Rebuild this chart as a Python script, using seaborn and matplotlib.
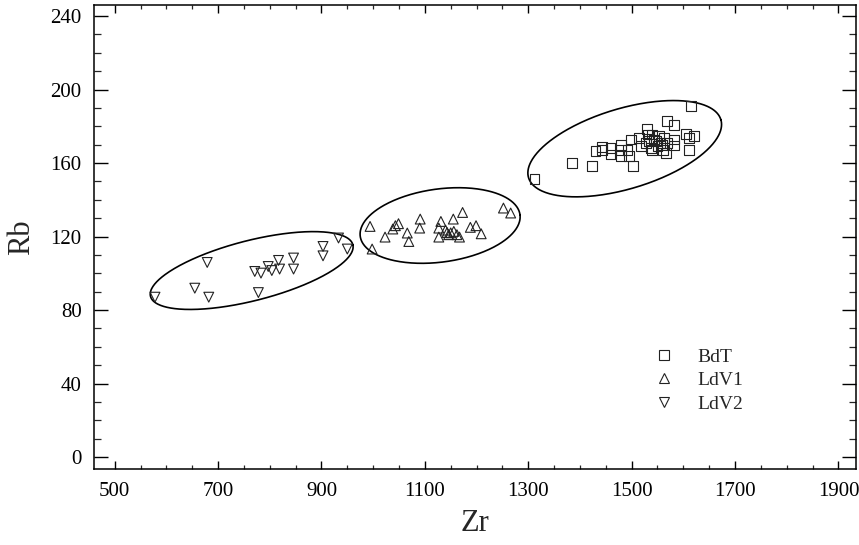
import numpy as np
import pandas as pd
import matplotlib
matplotlib.use("Agg")
import matplotlib.pyplot as plt
import seaborn as sns
from matplotlib.lines import Line2D
from matplotlib.ticker import MultipleLocator

# ---- data ----
bdt_zr = [1312, 1385, 1423, 1503, 1430, 1442, 1443, 1459, 1459, 1479, 1479, 1479,
          1492, 1495, 1498, 1514, 1518, 1529, 1531, 1534, 1540, 1540, 1543, 1550,
          1553, 1556, 1560, 1563, 1566, 1569, 1569, 1582, 1582, 1582, 1605, 1611,
          1621, 1611, 1615, 1527, 1537, 1547, 1558]
bdt_rb = [151.3, 160, 158.2, 158.2, 166.4, 168.8, 167.3, 168.2, 164.6, 170, 167.3, 163.7,
          167.3, 163.7, 172.8, 173.7, 169.1, 178.6, 175.5, 171.8, 175.5, 167.3, 172.8, 169.1,
          174.6, 171, 167.3, 173.7, 165.5, 182.7, 171, 180.9, 172.8, 169.5, 176, 173.7,
          174.9, 167.3, 190.9, 171, 168.2, 172, 170]

ldv1_zr = [994, 998, 1023, 1038, 1043, 1049, 1066, 1069, 1091, 1090, 1127, 1131, 1127,
           1143, 1146, 1155, 1156, 1162, 1167, 1173, 1188, 1199, 1209, 1252, 1266, 1150, 1140]
ldv1_rb = [125.5, 113.2, 119.7, 124.1, 125.9, 127, 121.9, 117.3, 129.5, 124.6, 124.6, 128.2, 119.7,
           122.2, 121, 129.5, 122.8, 121, 119.7, 133.1, 125, 125.9, 121.5, 135.5, 132.8, 122, 123.5]

ldv2_zr = [578, 655, 682, 679, 778, 771, 783, 797, 804, 817, 819, 846, 846, 903, 903, 933, 950]
ldv2_rb = [87, 91.9, 87, 105.9, 89.5, 101, 100.1, 103.7, 101.5, 107, 102.3, 108.3, 102.3,
           114.6, 109.5, 119.2, 113.2]

groups = ["BdT", "LdV1", "LdV2"]
group_markers = {"BdT": "s", "LdV1": "^", "LdV2": "v"}

# ellipses: centre, semi-major vector, semi-minor vector (data units)
ell_cx = [1486.6, 1129.5, 765.0]
ell_cy = [167.8, 126.0, 101.5]
ell_ax = [186.0, 154.5, 195.7]
ell_ay = [15.8, 5.89, 14.06]
ell_bx = [-22.4, -9.48, -14.4]
ell_by = [20.9, 19.71, 15.84]

x_ticks = [500, 700, 900, 1100, 1300, 1500, 1700, 1900]
y_ticks = [0, 40, 80, 120, 160, 200, 240]

df = pd.concat([
    pd.DataFrame({"Zr": bdt_zr, "Rb": bdt_rb, "group": "BdT"}),
    pd.DataFrame({"Zr": ldv1_zr, "Rb": ldv1_rb, "group": "LdV1"}),
    pd.DataFrame({"Zr": ldv2_zr, "Rb": ldv2_rb, "group": "LdV2"}),
], ignore_index=True)

sns.set_theme(style="ticks")
plt.rcParams["font.family"] = ["Liberation Serif", "DejaVu Serif"]

fig = plt.figure(figsize=(8.59, 5.45), dpi=100)
ax = fig.add_axes([94 / 859, 1 - 469 / 545, 762 / 859, 464 / 545])

sns.scatterplot(data=df, x="Zr", y="Rb", style="group", markers=group_markers,
                style_order=groups, facecolor="none", edgecolor="#222222",
                linewidth=0.8, s=50, legend=False, ax=ax, zorder=3)

t = np.linspace(0, 2 * np.pi, 400)
for cx, cy, axx, ayy, bxx, byy in zip(ell_cx, ell_cy, ell_ax, ell_ay, ell_bx, ell_by):
    ax.plot(cx + axx * np.cos(t) + bxx * np.sin(t),
            cy + ayy * np.cos(t) + byy * np.sin(t),
            color="black", lw=1.2, zorder=2)

ax.set_xlim(460, 1934)
ax.set_ylim(-6.5, 246)
ax.set_xticks(x_ticks)
ax.set_yticks(y_ticks)
ax.xaxis.set_minor_locator(MultipleLocator(50))
ax.yaxis.set_minor_locator(MultipleLocator(10))

for s in ax.spines.values():
    s.set_visible(True)
    s.set_linewidth(1.1)
    s.set_color("black")

ax.tick_params(axis="x", which="major", direction="in", length=6, width=1.0,
               top=True, bottom=True, labelsize=15, pad=9, colors="black")
ax.tick_params(axis="x", which="minor", direction="in", length=3, width=0.9,
               top=True, bottom=True)
ax.tick_params(axis="y", which="major", direction="in", length=10, width=1.0,
               left=True, right=True, labelsize=15, pad=9, colors="black")
ax.tick_params(axis="y", which="minor", direction="in", length=5, width=0.9,
               left=True, right=True)

ax.set_xlabel("Zr", fontsize=22, labelpad=6)
ax.set_ylabel("Rb", fontsize=22, labelpad=10)

handles = [Line2D([], [], linestyle="none", marker=group_markers[g], markersize=6.5,
                  markerfacecolor="none", markeredgecolor="#222222", markeredgewidth=0.8)
           for g in groups]
ax.legend(handles, groups, loc="upper left", bbox_to_anchor=(0.725, 0.277),
          frameon=False, fontsize=14, handlelength=1.0, handletextpad=1.2,
          labelspacing=0.3, borderaxespad=0)

fig.savefig("out.png", dpi=100)
